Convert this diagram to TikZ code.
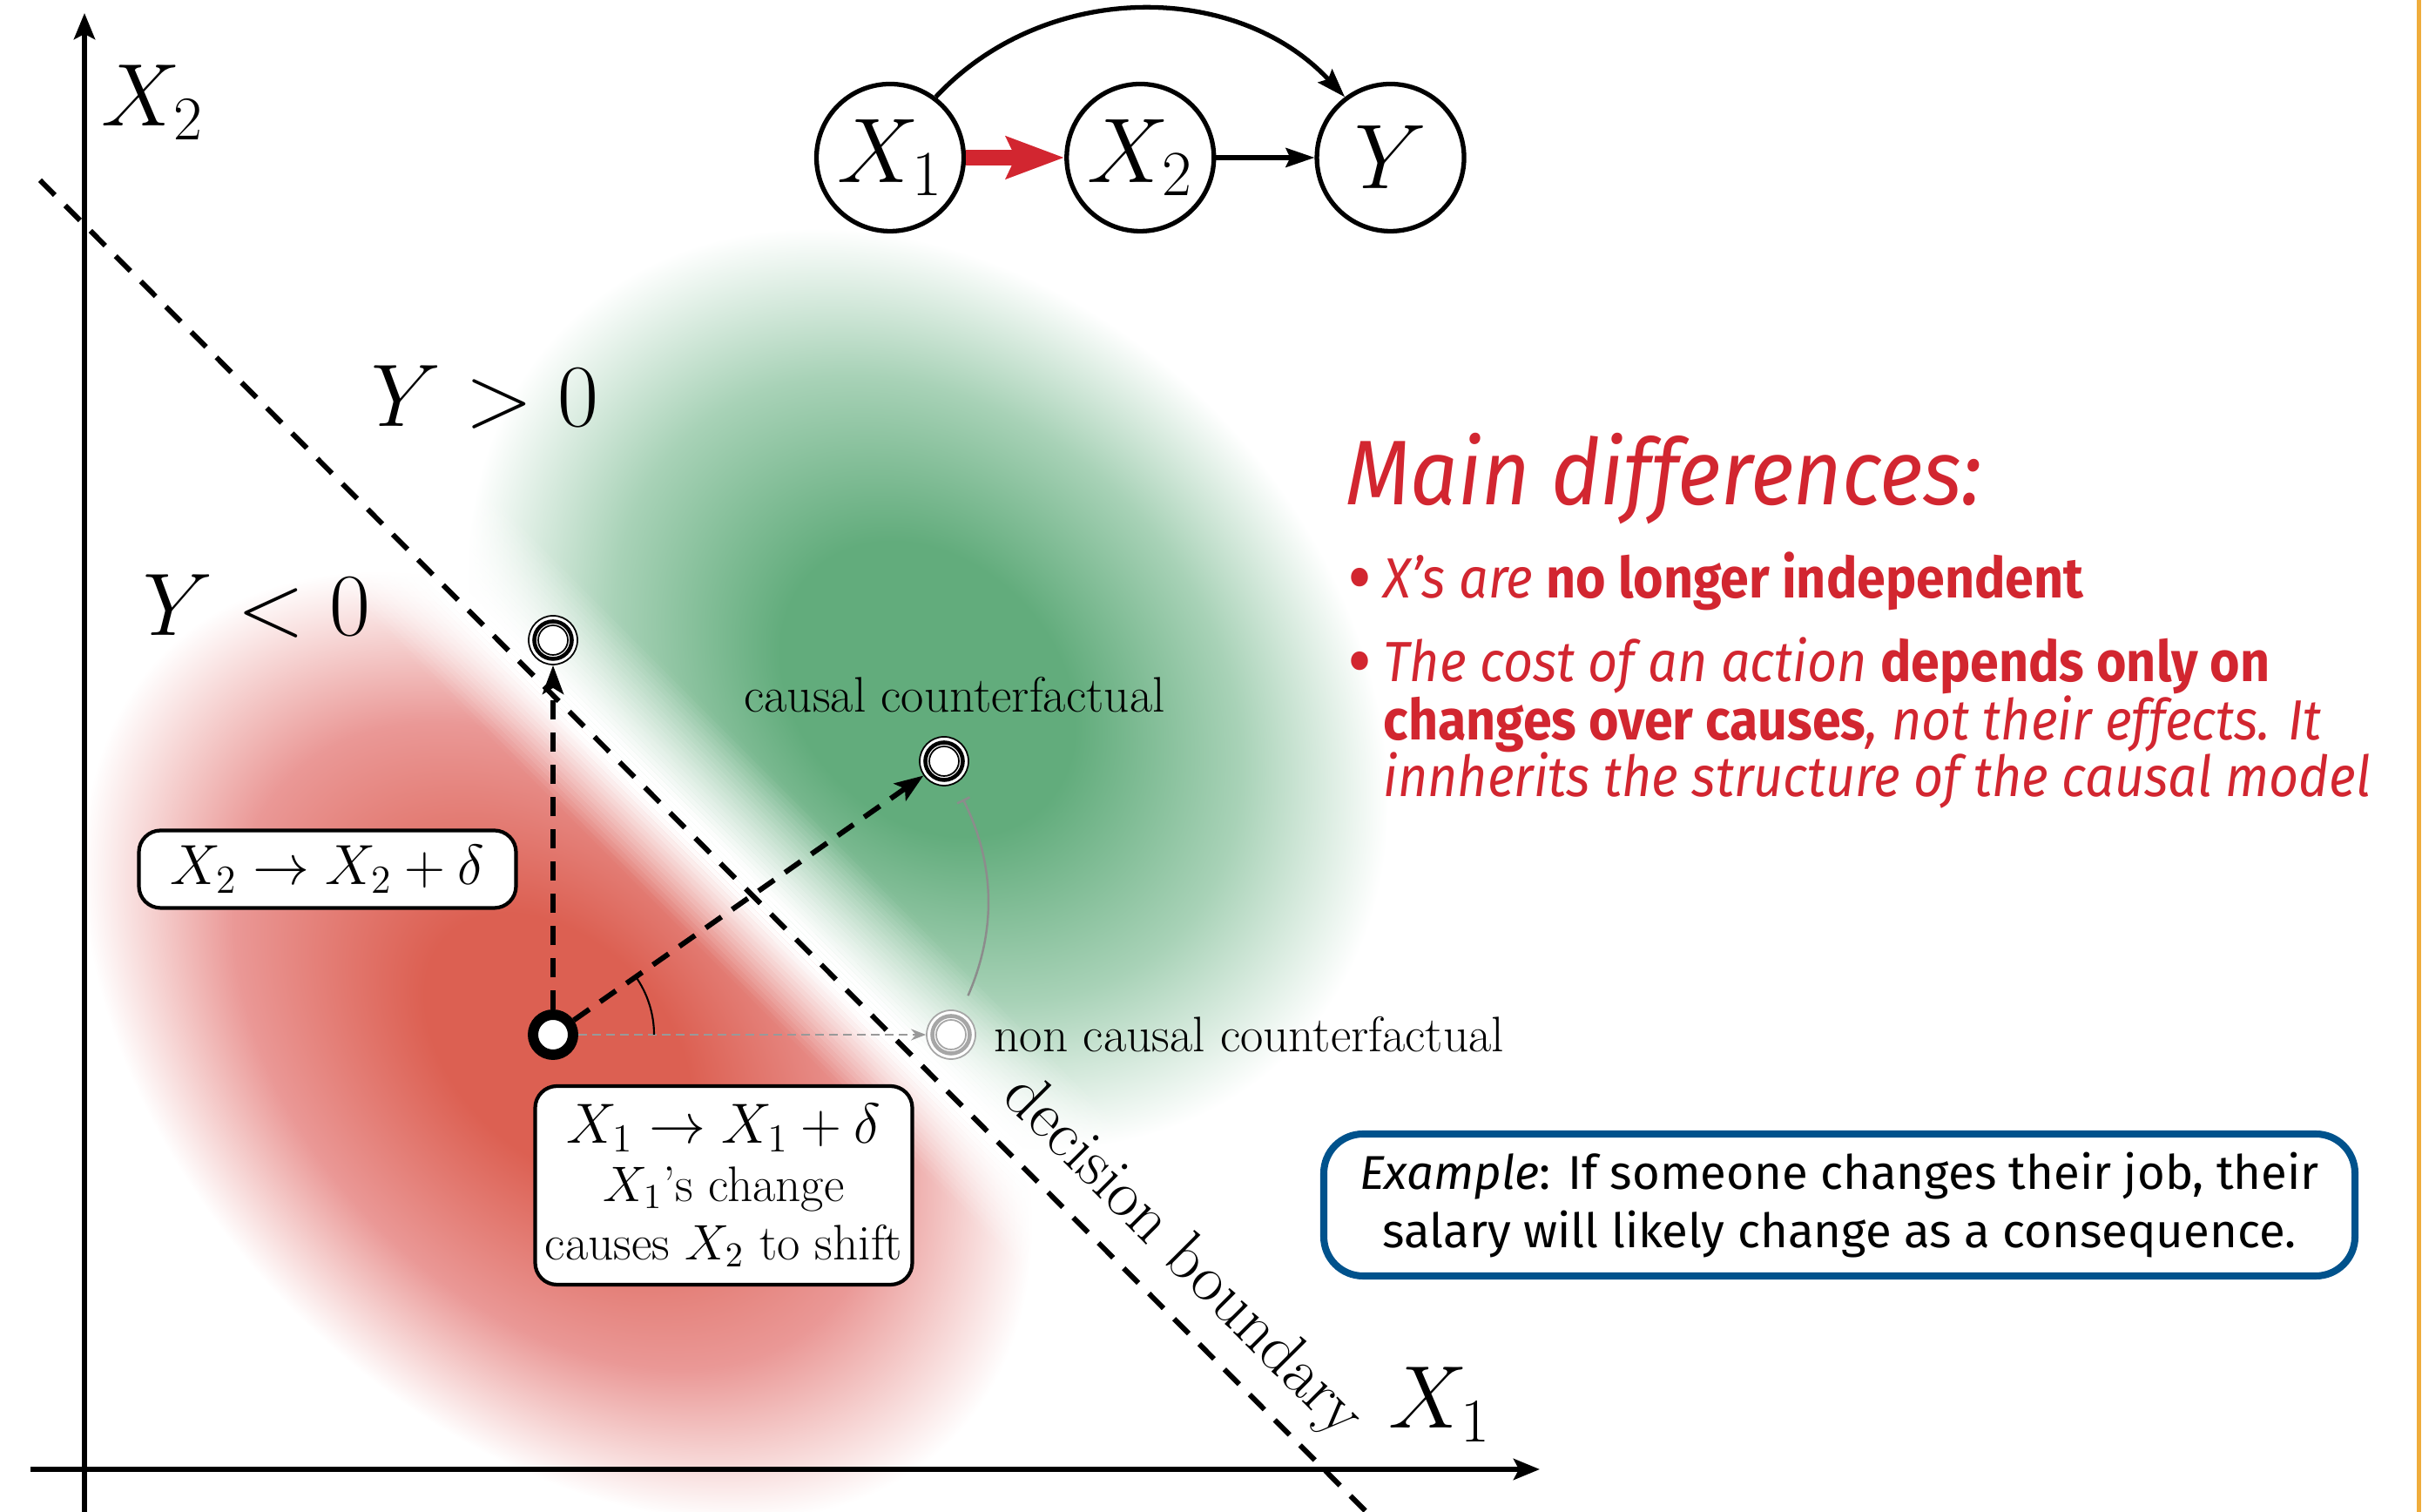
\RequirePackage{fix-cm}
\documentclass[tikz,border=0pt]{standalone}
\usepackage{fontspec}
\usepackage{amsmath}
\usetikzlibrary{positioning,arrows.meta,angles}
\newfontfamily\firafont{Fira Sans}
\newfontfamily\redfont{Fira Sans}[FakeStretch=0.91]
\newcommand{\rb}[1]{{\upshape\bfseries#1}}

\definecolor{causred}{RGB}{210,38,48}
\definecolor{blobred}{RGB}{220,96,82}
\definecolor{blobpink}{RGB}{234,152,150}
\definecolor{blobgreen}{RGB}{98,172,124}
\definecolor{blobmint}{RGB}{168,210,183}
\definecolor{exblue}{RGB}{0,82,140}
\definecolor{barorange}{RGB}{239,172,59}

\pgfdeclareradialshading{redglow}{\pgfpoint{0bp}{0bp}}{color(0bp)=(blobred); color(7bp)=(blobred); color(17bp)=(blobpink); color(25bp)=(white); color(50bp)=(white)}
\pgfdeclareradialshading{greenglow}{\pgfpoint{0bp}{0bp}}{color(0bp)=(blobgreen); color(8bp)=(blobgreen); color(17bp)=(blobmint); color(25bp)=(white); color(50bp)=(white)}

\tikzset{
  dagnode/.style={circle,draw,line width=1.5pt,minimum size=1.69cm,inner sep=0pt,font=\fontsize{30}{36}\selectfont},
  biglabel/.style={inner sep=0pt,font=\fontsize{29}{34}\selectfont},
  axisline/.style={line width=1.7pt,-{Stealth[length=0.3cm,width=0.24cm,inset=0.06cm]}},
  boundline/.style={line width=1.7pt,dash pattern=on 0.24cm off 0.17cm},
  shiftarrow/.style={line width=1.7pt,dash pattern=on 0.22cm off 0.15cm,-{Stealth[length=0.33cm,width=0.24cm,inset=0.07cm]}},
  ghostarrow/.style={black!40,line width=0.7pt,dash pattern=on 0.1cm off 0.06cm,-{Stealth[length=0.17cm,width=0.13cm]}},
  startpt/.style={circle,draw,fill=white,line width=3.4pt,minimum size=0.46cm,inner sep=0pt},
  cfpt/.style={circle,draw=#1,fill=white,line width=0.5pt,minimum size=0.56cm,inner sep=0pt,
    path picture={\draw[#1,line width=1.3pt] (path picture bounding box.center) circle (0.215cm);
      \draw[#1,line width=0.5pt] (path picture bounding box.center) circle (0.17cm);}},
  cfpt/.default=black,
  cflabel/.style={inner sep=0pt,font=\fontsize{16.3}{19}\selectfont},
  shiftbox/.style={draw,fill=white,line width=1.2pt,rounded corners=0.25cm,align=center,minimum width=4.33cm,inner sep=0.1cm,font=\fontsize{18.5}{19}\selectfont},
  redtitle/.style={causred,inner sep=0pt,anchor=base west,font=\redfont\itshape\fontsize{30}{36}\selectfont},
  reditem/.style={causred,inner sep=0pt,anchor=base west,font=\redfont\fontsize{18.5}{22}\selectfont},
  redbullet/.style={causred,inner sep=0pt,anchor=base west,yshift=-0.09cm,font=\redfont\fontsize{27}{27}\selectfont},
  exbox/.style={draw=exblue,fill=white,line width=2.3pt,rounded corners=0.45cm,align=center,minimum width=11.84cm,minimum height=1.63cm,font=\firafont\fontsize{15.5}{19}\selectfont}
}

\begin{document}
\begin{tikzpicture}
  \path[fill=white,use as bounding box] (0,0) rectangle (27.81,17.36);
  \coordinate (bnd1) at (0.46,15.29);
  \coordinate (bnd2) at (15.74,-0.05);

  \begin{scope}
    \clip (bnd1) -- (bnd2) -- (0,-0.05) -- (0,15.29) -- cycle;
    \begin{scope}[transform canvas={shift={(6.4,5.35)},rotate=-45}]
      \shade[shading=redglow] (0,0) ellipse [x radius=6.4cm,y radius=4.3cm];
    \end{scope}
  \end{scope}
  \begin{scope}
    \clip (bnd1) -- (bnd2) -- (27.81,-0.05) -- (27.81,17.36) -- (0.46,17.36) -- cycle;
    \begin{scope}[transform canvas={shift={(10.65,9.45)},rotate=-45}]
      \shade[shading=greenglow] (0,0) ellipse [x radius=5.9cm,y radius=4.6cm];
    \end{scope}
  \end{scope}
  \begin{scope}[shift={(bnd1)},rotate=-45.1]
    \foreach \k [evaluate={\k as \op using max(0,min(1,1.12-\k/20))}] in {0,...,22}
      \fill[white,opacity=\op] (-0.5,\k*0.05) rectangle (22.5,\k*0.05+0.05);
    \foreach \k [evaluate={\k as \op using max(0,min(1,1.1-\k/15))}] in {0,...,16}
      \fill[white,opacity=\op] (-0.5,-\k*0.05) rectangle (22.5,-\k*0.05-0.05);
  \end{scope}

  \draw[boundline] (bnd1) -- (bnd2);
  \coordinate (ya0) at (0.97,0);
  \coordinate (ya1) at (0.97,17.21);
  \coordinate (xa0) at (0.35,0.49);
  \coordinate (xa1) at (17.68,0.49);
  \draw[axisline] (ya0) -- (ya1);
  \draw[axisline] (xa0) -- (xa1);
  \node[biglabel,anchor=base] (lx2) at (1.75,15.91) {$X_2$};
  \node[biglabel,anchor=base] (lx1) at (16.53,0.96) {$X_1$};
  \node[biglabel,anchor=base] (ypos) at (5.57,12.46) {$Y > 0$};
  \node[biglabel,anchor=base] (yneg) at (2.95,10.06) {$Y < 0$};

  \node[dagnode] (dx1) at (10.22,15.55) {$X_1$};
  \node[dagnode,right=1.13cm of dx1] (dx2) {$X_2$};
  \node[dagnode,right=1.13cm of dx2] (dy) {$Y$};
  \draw[causred,line width=5pt,-{Stealth[length=0.66cm,width=0.47cm,inset=0.1cm]}] (dx1) -- (dx2);
  \draw[line width=1.5pt,-{Stealth[length=0.33cm,width=0.22cm,inset=0.05cm]}] (dx2) -- (dy);
  \draw[line width=1.5pt,-{Stealth[length=0.33cm,width=0.22cm,inset=0.05cm]}] (dx1.53) to[bend left=47] (dy.127);

  \node[startpt] (orig) at (6.35,5.48) {};
  \node[cfpt] (vup) at (6.35,10.01) {};
  \node[cfpt] (ccf) at (10.84,8.62) {};
  \node[cfpt=black!35] (ncf) at (10.92,5.48) {};
  \draw[shiftarrow] (orig) -- (vup);
  \draw[shiftarrow] (orig) -- (ccf);
  \draw[ghostarrow] (orig) -- (ncf);
  \pic[draw,line width=0.6pt,angle radius=1.16cm] {angle=ncf--orig--ccf};
  \draw[black!45,line width=0.7pt,-{Bar[width=0.16cm]},shorten <=0.2cm,shorten >=0.2cm] (ncf) to[bend right=25] (ccf);
  \node[cflabel,above=0.26cm of ccf,xshift=0.12cm] (ccflab) {causal counterfactual};
  \node[cflabel,right=0.2cm of ncf] (ncflab) {non causal counterfactual};
  \node[inner sep=0pt,rotate=-45.1,font=\fontsize{21.6}{26}\selectfont] (bndlab) at (13.57,2.92) {decision boundary};

  \node[shiftbox,minimum height=0.89cm] (x2box) at (3.76,7.38) {$X_2 \rightarrow X_2 + \delta$};
  \node[shiftbox,minimum height=2.28cm] (x1box) at (8.31,3.75) {$X_1 \rightarrow X_1 + \delta$\\{\fontsize{16.3}{18}\selectfont $X_1$'s change}\\{\fontsize{16.3}{18}\selectfont causes $X_2$ to shift}};

  \node[redtitle] (mdiff) at (15.45,11.56) {Main differences:};
  \node[redbullet] (bul1) at (15.47,10.49) {•};
  \node[reditem] (itm1) at (15.88,10.49) {\itshape X’s are \rb{no longer independent}};
  \node[redbullet] (bul2) at (15.47,9.53) {•};
  \node[reditem] (itm2) at (15.88,9.53) {\itshape The cost of an action \rb{depends only on}};
  \node[reditem] (itm3) at (15.88,8.86) {\rb{changes over causes}\itshape, not their effects. It};
  \node[reditem] (itm4) at (15.88,8.21) {\itshape innherits the structure of the causal model};

  \node[exbox] (expl) at (21.12,3.525) {\textit{Example}: If someone changes their job, their\\salary will likely change as a consequence.};

  \coordinate (ob0) at (27.77,0);
  \coordinate (ob1) at (27.77,17.36);
  \draw[barorange,line width=1.4pt] (ob0) -- (ob1);
\end{tikzpicture}
\end{document}
